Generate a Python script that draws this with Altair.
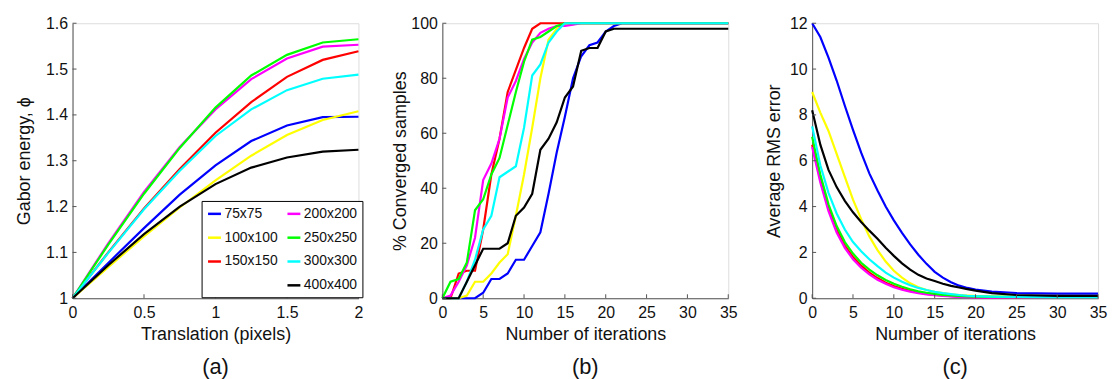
import altair as alt
import pandas as pd

FONT = "Liberation Sans"

SIZES = ["75x75", "100x100", "150x150", "200x200", "250x250", "300x300", "400x400"]
COLORS = ["#0000FF", "#FFFF00", "#FF0000", "#FF00FF", "#00FF00", "#00FFFF", "#000000"]

# legend layout (filled column-wise: 3 entries + a blank in the first column, 4 in the second)
LEG_ORDER = ["75x75", "100x100", "150x150", " ", "200x200", "250x250", "300x300", "400x400"]

# ---------------- panel (a): Gabor energy vs translation ----------------
A_X = [0, 0.25, 0.5, 0.75, 1.0, 1.25, 1.5, 1.75, 2.0]
A_75 = [1.0, 1.077, 1.153, 1.226, 1.290, 1.343, 1.377, 1.395, 1.396]
A_100 = [1.0, 1.068, 1.135, 1.198, 1.257, 1.311, 1.356, 1.389, 1.408]
A_150 = [1.0, 1.100, 1.196, 1.282, 1.361, 1.428, 1.483, 1.520, 1.539]
A_200 = [1.0, 1.120, 1.232, 1.330, 1.412, 1.478, 1.523, 1.549, 1.553]
A_250 = [1.0, 1.117, 1.228, 1.328, 1.416, 1.486, 1.531, 1.558, 1.565]
A_300 = [1.0, 1.099, 1.194, 1.278, 1.354, 1.412, 1.454, 1.479, 1.488]
A_400 = [1.0, 1.072, 1.140, 1.200, 1.249, 1.285, 1.307, 1.320, 1.324]
A_XTICKS = [0, 0.5, 1, 1.5, 2]
A_YTICKS = [1, 1.1, 1.2, 1.3, 1.4, 1.5, 1.6]

# ---------------- panel (b): % converged samples ----------------
B_X = [0, 1, 2, 3, 4, 5, 6, 7, 8, 9, 10, 11, 12, 13, 14, 15, 16, 17, 18, 19, 20, 21, 22, 35]
B_75 = [0, 0, 0, 0, 0, 2, 7, 7, 9, 14, 14, 19, 24, 38, 53, 66, 80, 88, 92, 93, 97, 99, 100, 100]
B_100 = [0, 0, 0, 1, 6, 6, 9, 13, 16, 30, 45, 62, 80, 94, 98, 100, 100, 100, 100, 100, 100, 100, 100, 100]
B_150 = [0, 0, 9, 10, 10, 25, 45, 58, 75, 83, 91, 98, 100, 100, 100, 100, 100, 100, 100, 100, 100, 100, 100, 100]
B_200 = [0, 1, 6, 12, 22, 43, 49, 58, 73, 79, 87, 93, 96.5, 98, 99, 99, 99.5, 100, 100, 100, 100, 100, 100, 100]
B_250 = [0, 6, 7, 13, 32, 36, 45, 51, 63, 75, 86, 94, 95, 97, 99, 100, 100, 100, 100, 100, 100, 100, 100, 100]
B_300 = [0, 0, 0, 6, 14, 25, 30, 44, 46, 48, 62, 81, 85, 93, 97, 100, 100, 100, 100, 100, 100, 100, 100, 100]
B_400 = [0, 0, 0, 6, 12, 18, 18, 18, 20, 30, 33, 38, 54, 58, 64, 73, 77, 90, 91, 91, 97, 98, 98, 98]
B_XTICKS = [0, 5, 10, 15, 20, 25, 30, 35]
B_YTICKS = [0, 20, 40, 60, 80, 100]

# ---------------- panel (c): average RMS error ----------------
C_X = [0, 1, 2, 3, 4, 5, 6, 7, 8, 9, 10, 11, 12, 13, 14, 15, 16, 17, 18, 19, 20, 22, 25, 30, 35]
C_75 = [12.0, 11.4, 10.5, 9.5, 8.4, 7.35, 6.35, 5.45, 4.7, 4.0, 3.4, 2.85, 2.35, 1.9, 1.5, 1.15, 0.9, 0.7, 0.55, 0.45, 0.38, 0.29, 0.23, 0.2, 0.2]
C_100 = [9.0, 8.1, 7.3, 6.3, 5.3, 4.3, 3.45, 2.7, 2.1, 1.6, 1.2, 0.9, 0.65, 0.48, 0.36, 0.28, 0.22, 0.17, 0.14, 0.12, 0.1, 0.08, 0.07, 0.06, 0.06]
C_150 = [6.7, 5.2, 3.95, 3.0, 2.3, 1.8, 1.42, 1.12, 0.88, 0.68, 0.53, 0.41, 0.32, 0.25, 0.19, 0.15, 0.12, 0.09, 0.07, 0.06, 0.05, 0.04, 0.03, 0.03, 0.03]
C_200 = [6.6, 5.05, 3.8, 2.87, 2.2, 1.7, 1.33, 1.04, 0.81, 0.63, 0.48, 0.37, 0.29, 0.22, 0.17, 0.13, 0.1, 0.08, 0.06, 0.05, 0.04, 0.03, 0.03, 0.02, 0.02]
C_250 = [7.05, 5.4, 4.1, 3.15, 2.45, 1.95, 1.55, 1.25, 1.0, 0.8, 0.63, 0.5, 0.39, 0.3, 0.24, 0.19, 0.15, 0.12, 0.1, 0.08, 0.07, 0.06, 0.05, 0.04, 0.04]
C_300 = [7.5, 5.8, 4.6, 3.7, 3.0, 2.45, 2.05, 1.7, 1.4, 1.12, 0.9, 0.72, 0.57, 0.45, 0.36, 0.28, 0.22, 0.18, 0.14, 0.11, 0.09, 0.07, 0.06, 0.05, 0.05]
C_400 = [8.2, 6.7, 5.6, 4.85, 4.25, 3.75, 3.33, 2.95, 2.6, 2.2, 1.85, 1.52, 1.25, 1.02, 0.86, 0.75, 0.63, 0.54, 0.47, 0.4, 0.33, 0.22, 0.14, 0.1, 0.1]
C_XTICKS = [0, 5, 10, 15, 20, 25, 30, 35]
C_YTICKS = [0, 2, 4, 6, 8, 10, 12]

W, H = 288, 277
AXIS_COLOR = "#555555"


def series_frame(xs, series):
    rows = []
    for name, ys in zip(SIZES, series):
        for x, y in zip(xs, ys):
            rows.append({"x": x, "y": y, "size": name})
    return pd.DataFrame(rows)


leg_range = []
for n in LEG_ORDER:
    leg_range.append(COLORS[SIZES.index(n)] if n in SIZES else "transparent")


def panel(df, xdom, ydom, xticks, yticks, xfmt, yfmt, xtitle, ytitle, tag, ytitle_x, legend):
    xscale = alt.Scale(domain=xdom, nice=False, zero=False)
    yscale = alt.Scale(domain=ydom, nice=False, zero=False)
    xaxis = alt.Axis(values=xticks, format=xfmt, title=xtitle, grid=False, ticks=False,
                     domainColor=AXIS_COLOR, domainWidth=1, labelFont=FONT, labelFontSize=16,
                     labelColor="#111111", labelPadding=6, labelFlush=False, labelOverlap=False,
                     titleFont=FONT, titleFontSize=18, titleFontWeight="normal", titleColor="#111111",
                     titleY=37, titleBaseline="middle")
    yaxis = alt.Axis(values=yticks, format=yfmt, title=ytitle, grid=False, ticks=False,
                     domainColor=AXIS_COLOR, domainWidth=1, labelFont=FONT, labelFontSize=16,
                     labelColor="#111111", labelPadding=5, labelFlush=False, labelOverlap=False,
                     titleFont=FONT, titleFontSize=18, titleFontWeight="normal", titleColor="#111111",
                     titleX=ytitle_x, titleBaseline="middle")
    lines = alt.Chart(df).mark_line(strokeWidth=2.2, clip=False).encode(
        x=alt.X("x:Q", scale=xscale, axis=xaxis),
        y=alt.Y("y:Q", scale=yscale, axis=yaxis),
        color=alt.Color("size:N", scale=alt.Scale(domain=LEG_ORDER, range=leg_range), legend=legend),
        detail="size:N",
    )
    ytk = alt.Chart(pd.DataFrame({"y": yticks})).mark_rule(color=AXIS_COLOR, strokeWidth=1).encode(
        y=alt.Y("y:Q", scale=yscale, axis=yaxis), x=alt.value(0), x2=alt.value(4))
    xtk = alt.Chart(pd.DataFrame({"x": xticks})).mark_rule(color=AXIS_COLOR, strokeWidth=1).encode(
        x=alt.X("x:Q", scale=xscale, axis=xaxis), y=alt.value(H), y2=alt.value(H - 4))
    return alt.layer(lines, ytk, xtk).properties(
        width=W, height=H,
        title=alt.TitleParams(tag, orient="bottom", anchor="middle", frame="group", fontSize=22,
                              font=FONT, fontWeight="normal", color="#111111", offset=13),
    )


legend_a = alt.Legend(title=None, orient="none", legendX=130, legendY=179, columns=2,
                      symbolType="stroke", symbolSize=169, symbolStrokeWidth=2.5,
                      labelFont=FONT, labelFontSize=14, labelColor="#111111", labelOffset=2,
                      columnPadding=4, rowPadding=9, padding=5, strokeColor="black",
                      fillColor="white", cornerRadius=0)

pa = panel(series_frame(A_X, [A_75, A_100, A_150, A_200, A_250, A_300, A_400]),
           [0, 2], [1, 1.6], A_XTICKS, A_YTICKS, "~g", "~g",
           "Translation (pixels)", "Gabor energy,  ϕ", "(a)", -48, legend_a)
pb = panel(series_frame(B_X, [B_75, B_100, B_150, B_200, B_250, B_300, B_400]),
           [0, 35], [0, 100], B_XTICKS, B_YTICKS, "d", "d",
           "Number of iterations", "% Converged samples", "(b)", -42, None)
pc = panel(series_frame(C_X, [C_75, C_100, C_150, C_200, C_250, C_300, C_400]),
           [0, 35], [0, 12], C_XTICKS, C_YTICKS, "d", "d",
           "Number of iterations", "Average RMS error", "(c)", -38, None)

chart = alt.hconcat(pa, pb, pc, spacing=84.5, bounds="flush").resolve_scale(color="independent").resolve_legend(
    color="independent"
).properties(
    padding={"left": 7, "top": 5, "right": 0, "bottom": 0}
).configure_view(stroke=None).configure(background="white")

chart.save("out.html", embed_options={"renderer": "svg", "actions": False})
